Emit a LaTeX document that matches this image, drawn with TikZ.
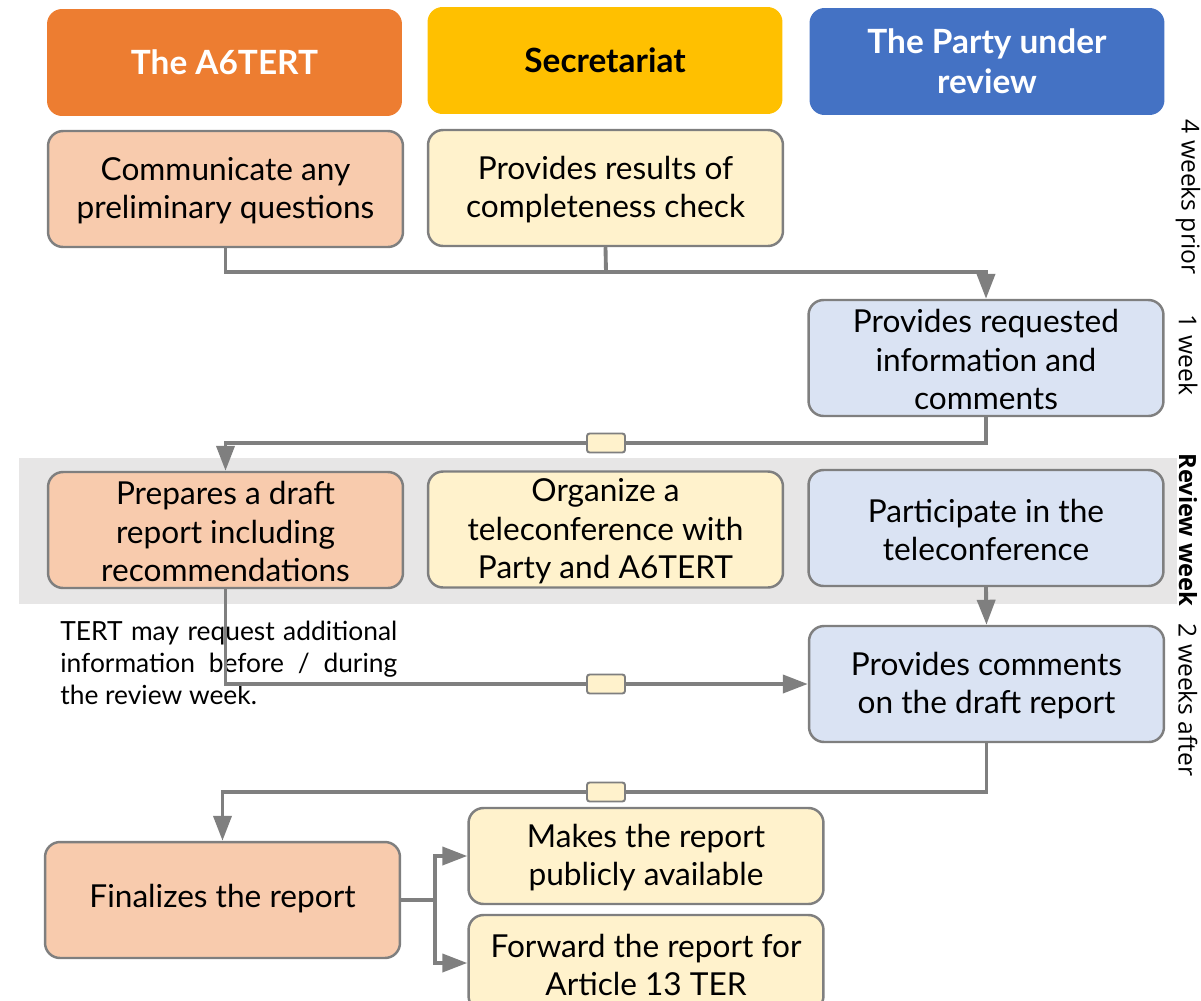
\documentclass[tikz,border=0pt]{standalone}
\usepackage{fontspec}
\setmainfont{Lato}
\newfontfamily\sidefont{Open Sans}
\usetikzlibrary{arrows.meta}
\definecolor{orangehead}{HTML}{ED7D31}
\definecolor{yellowhead}{HTML}{FFC000}
\definecolor{bluehead}{HTML}{4472C4}
\definecolor{orangelight}{HTML}{F8CBAD}
\definecolor{yellowlight}{HTML}{FFF2CC}
\definecolor{bluelight}{HTML}{DAE3F3}
\definecolor{linegray}{HTML}{7F7F7F}
\definecolor{bandgray}{HTML}{E7E6E6}
\begin{document}
\begin{tikzpicture}[x=0.02cm, y=-0.02cm,
    head/.style={rounded corners=0.3cm, minimum width=7.1cm, minimum height=2.14cm,
        inner sep=0pt, align=center, font=\bfseries\fontsize{19}{23}\selectfont},
    box/.style={draw=linegray, line width=1.4pt, rounded corners=0.3cm, minimum width=7.1cm,
        minimum height=2.32cm, inner sep=0pt, align=center, font=\fontsize{18}{21.8}\selectfont},
    conn/.style={draw=linegray, line width=2.2pt, -{Triangle[length=0.5cm, width=0.36cm]}},
    tag/.style={draw=linegray, fill=yellowlight, line width=1.1pt, rounded corners=1.5pt,
        minimum width=0.76cm, minimum height=0.38cm, inner sep=0pt},
    side/.style={rotate=-90, font=\sidefont\fontsize{14}{16}\selectfont}]
    \useasboundingbox (0,0) rectangle (1201,1001);

    % review week band
    \fill[bandgray] (19,458) rectangle (1177,604);

    % headers
    \node[head, fill=orangehead, text=white] (a6tert) at (224.5,62.5) {The A6TERT};
    \node[head, fill=yellowhead] (secr) at (605,60.5) {Secretariat};
    \node[head, fill=bluehead, text=white] (party) at (987,61.5) {The Party under\\review};

    % steps
    \node[box, fill=orangelight] (comm) at (225.5,189) {\strut Communicate any\\preliminary questions};
    \node[box, fill=yellowlight] (results) at (605.5,188) {\strut Provides results of\\completeness check};
    \node[box, fill=bluelight] (requested) at (986,358) {\strut Provides requested\\information and\\comments};
    \node[box, fill=orangelight] (prepares) at (225.5,530) {\strut Prepares a draft\\report including\\recommendations};
    \node[box, fill=yellowlight] (organize) at (605.5,529.5) {\strut Organize a\\teleconference with\\Party and A6TERT};
    \node[box, fill=bluelight] (participate) at (986,528) {\strut Participate in the\\teleconference};
    \node[box, fill=bluelight] (comments) at (986.5,684) {\strut Provides comments\\on the draft report};
    \node[box, fill=orangelight] (finalize) at (222.5,900) {\strut Finalizes the report};
    \node[box, fill=yellowlight, minimum height=1.92cm] (publish) at (646,856) {\strut Makes the report\\publicly available};
    \node[box, fill=yellowlight, minimum height=1.92cm] (forward) at (646,963) {\strut Forward the report for\\Article 13 TER};

    % note
    \node[anchor=west, text width=6.74cm, align=justify, inner sep=0pt,
        font=\fontsize{15}{18}\selectfont] (note) at (60,663)
        {TERT may request additional\linebreak information before / during\linebreak the review week.};

    % connectors
    \coordinate (k1) at (606,272);
    \coordinate (k2) at (606,443);
    \coordinate (k3) at (606,684);
    \coordinate (k4) at (606,792);
    \coordinate (k5) at (435,900);
    \draw[linegray, line width=2.2pt] (results.south) -- (k1);
    \draw[conn] (comm.south) |- (k1) -| (requested.north);
    \draw[conn] (requested.south) |- (k2) -| (prepares.north);
    \draw[conn] (participate.south) -- (comments.north);
    \draw[conn] (prepares.south) |- (k3) -- (comments.west);
    \draw[conn] (comments.south) |- (k4) -| (finalize.north);
    \draw[conn] (finalize.east) -- (k5) |- (publish.west);
    \draw[conn] (k5) |- (forward.west);
    \node[tag] at (k2) {};
    \node[tag] at (k3) {};
    \node[tag] at (k4) {};

    % time labels
    \node[side] (prior) at (1188,197) {4 weeks prior};
    \node[side] (week) at (1188,355) {1 week};
    \node[side, font=\sidefont\bfseries\fontsize{13.5}{16}\selectfont] (review) at (1188,530) {Review week};
    \node[side] (after) at (1188,700) {2 weeks after};
\end{tikzpicture}
\end{document}
